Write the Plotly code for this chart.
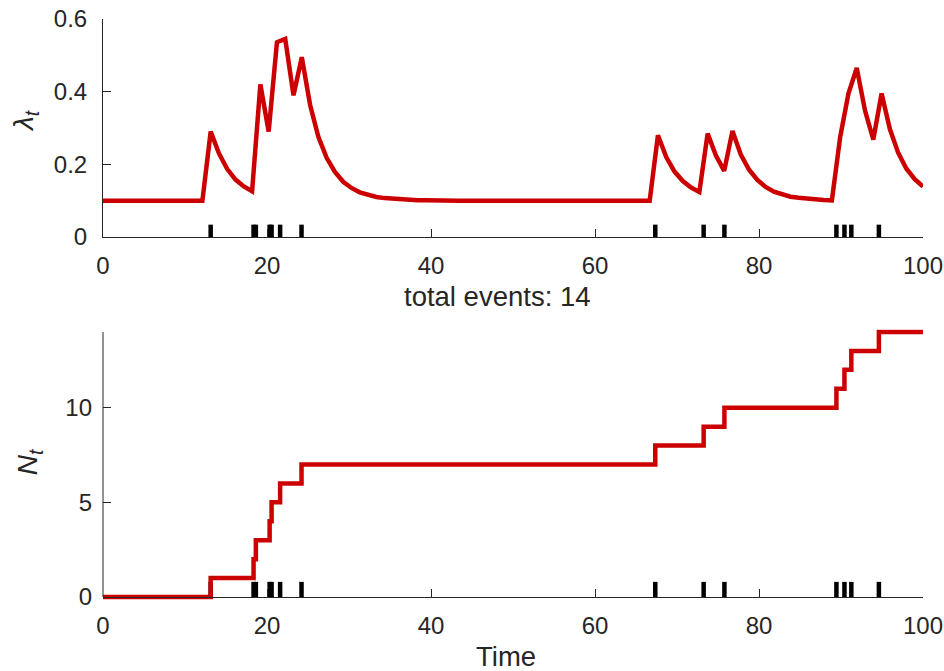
import numpy as np
import plotly.graph_objects as go

# Event times of the simulated point process
event_times = [13.13, 18.36, 18.64, 20.32, 20.56, 21.60, 24.21,
               67.35, 73.25, 75.78, 89.44, 90.42, 91.26, 94.62]

# Cumulative count after each event (starts at 0, ends at 14)
count_values = [0, 1, 2, 3, 4, 5, 6, 7, 8, 9, 10, 11, 12, 13, 14]

# Conditional intensity sampled on an evenly spaced grid over [0, 100]
grid_times = np.linspace(0, 100, 100)
intensity = [
    0.1, 0.1, 0.1, 0.1, 0.1, 0.1, 0.1, 0.1, 0.1, 0.1, 0.1, 0.1, 0.1,
    0.29, 0.23, 0.187, 0.158, 0.139, 0.126, 0.42, 0.29, 0.536, 0.545,
    0.39, 0.495, 0.364, 0.276, 0.218, 0.179, 0.152, 0.135, 0.123, 0.116,
    0.110, 0.107, 0.105, 0.103, 0.102, 0.101, 0.101,
    0.1, 0.1, 0.1, 0.1, 0.1, 0.1, 0.1, 0.1, 0.1, 0.1, 0.1, 0.1, 0.1, 0.1,
    0.1, 0.1, 0.1, 0.1, 0.1, 0.1, 0.1, 0.1, 0.1, 0.1, 0.1, 0.1, 0.1,
    0.28, 0.22, 0.18, 0.154, 0.136, 0.124, 0.285, 0.224, 0.182, 0.292,
    0.227, 0.185, 0.157, 0.138, 0.125, 0.117, 0.111, 0.108, 0.105, 0.103,
    0.102, 0.101, 0.275, 0.395, 0.465, 0.348, 0.268, 0.395, 0.297, 0.232,
    0.188, 0.159, 0.139,
]

t_end = 100
x_ticks = [0, 20, 40, 60, 80, 100]
y1_ticks = [0, 0.2, 0.4, 0.6]
y1_ticklabels = ["0", "0.2", "0.4", "0.6"]
y2_ticks = [0, 5, 10]
n_max = 14

RED = "#cc0000"
AX = "#262626"
FONT = "Liberation Sans"

# layout in pixels: plot area spans 19..600 vertically
M_TOP, M_BOT = 19, 71
PLOT_H = 671 - M_TOP - M_BOT
def paper_y(px):
    return (671 - M_BOT - px) / PLOT_H

# lower panel: a little padding around [0, 14] so the thick step line is not cut
N_PAD_LO, N_PAD_HI = 0.158, 0.15
y2_dom = [0.0, paper_y(597 - (n_max + N_PAD_HI) * 18.93)]
x2_pos = paper_y(597)

# rug marks: short vertical bars at each event time
def rug(height):
    xs, ys = [], []
    for t in event_times:
        xs += [t, t, None]
        ys += [0, height, None]
    return xs, ys

fig = go.Figure()

rx, ry = rug(0.034)
fig.add_trace(go.Scatter(x=rx, y=ry, mode="lines", xaxis="x", yaxis="y",
                         line=dict(color="black", width=4.5),
                         hoverinfo="skip"))
fig.add_trace(go.Scatter(x=grid_times, y=intensity, mode="lines",
                         xaxis="x", yaxis="y",
                         line=dict(color=RED, width=4.5)))

rx2, ry2 = rug(0.8)
fig.add_trace(go.Scatter(x=rx2, y=ry2, mode="lines", xaxis="x2", yaxis="y2",
                         line=dict(color="black", width=4.5),
                         hoverinfo="skip"))
step_x = [0] + event_times + [t_end]
step_y = count_values + [count_values[-1]]
fig.add_trace(go.Scatter(x=step_x, y=step_y, mode="lines",
                         line_shape="hv", xaxis="x2", yaxis="y2",
                         line=dict(color=RED, width=4.5)))

axis_style = dict(linecolor=AX, linewidth=1,
                  ticks="inside", ticklen=8, tickwidth=1, tickcolor=AX,
                  showgrid=False, zeroline=False, automargin=False,
                  tickfont=dict(family=FONT, size=24, color=AX))

fig.update_layout(
    width=944, height=671,
    margin=dict(l=103, r=21, t=M_TOP, b=M_BOT),
    paper_bgcolor="white", plot_bgcolor="white",
    showlegend=False,
    font=dict(family=FONT, color=AX),
    xaxis=dict(domain=[0, 1], range=[0, t_end], anchor="y", showline=True,
               tickvals=x_ticks, ticklabelstandoff=7, **axis_style),
    yaxis=dict(domain=[paper_y(237), 1], range=[0, 0.6], anchor="x",
               showline=True, tickvals=y1_ticks, ticktext=y1_ticklabels,
               ticklabelstandoff=10, **axis_style),
    xaxis2=dict(domain=[0, 1], range=[0, t_end], anchor="free",
                position=x2_pos, showline=True,
                tickvals=x_ticks, ticklabelstandoff=7, **axis_style),
    yaxis2=dict(domain=y2_dom, range=[-N_PAD_LO, n_max + N_PAD_HI],
                anchor="x2", showline=False,
                tickvals=y2_ticks, ticklabelstandoff=10, **axis_style),
    shapes=[
        # left spine of the lower panel, from 0 up to the final count
        dict(type="line", xref="paper", yref="y2", x0=0, x1=0,
             y0=0, y1=n_max, line=dict(color=AX, width=1)),
    ],
    annotations=[
        dict(text="total events: 14", x=0.4817, y=paper_y(296),
             xref="paper", yref="paper", showarrow=False,
             xanchor="center", yanchor="middle",
             font=dict(family=FONT, size=27.5, color=AX)),
        dict(text="Time", x=0.4915, y=paper_y(656),
             xref="paper", yref="paper", showarrow=False,
             xanchor="center", yanchor="middle",
             font=dict(family=FONT, size=27.5, color=AX)),
        dict(text="<i>λ<sub>t</sub></i>", x=-0.095, y=paper_y(121),
             xref="paper", yref="paper", showarrow=False, textangle=-90,
             xanchor="center", yanchor="middle",
             font=dict(family=FONT, size=28, color=AX)),
        dict(text="<i>N<sub>t</sub></i>", x=-0.09, y=paper_y(462),
             xref="paper", yref="paper", showarrow=False, textangle=-90,
             xanchor="center", yanchor="middle",
             font=dict(family=FONT, size=28, color=AX)),
    ],
)

fig.write_html("out.html")
